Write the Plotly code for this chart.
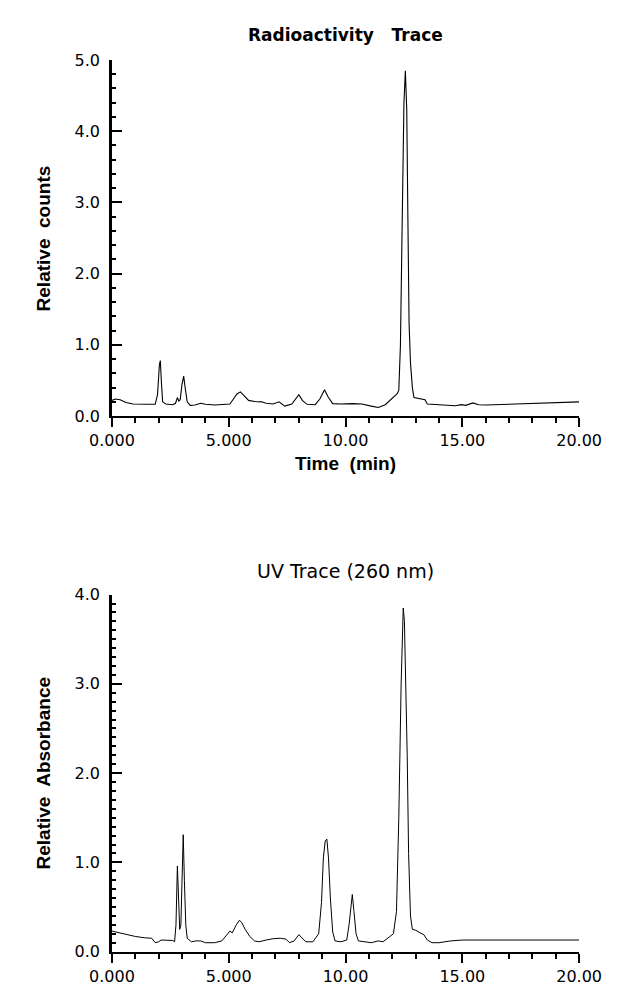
import plotly.graph_objects as go

# ---------------- data ----------------
radio_time = [0.00, 0.15, 0.35, 0.60, 0.90, 1.20, 1.50, 1.85, 1.95, 2.03, 2.07, 2.12, 2.17, 2.30,
              2.60, 2.72, 2.80, 2.86, 2.92, 3.00, 3.07, 3.14, 3.22, 3.35, 3.55, 3.80, 4.00, 4.40,
              4.80, 5.05, 5.20, 5.35, 5.50, 5.65, 5.85, 6.10, 6.40, 6.60, 6.90, 7.15, 7.40, 7.70,
              7.90, 8.00, 8.15, 8.35, 8.70, 8.90, 9.10, 9.25, 9.45, 9.80, 10.30, 10.70, 11.10,
              11.40, 11.70, 12.00, 12.20, 12.28, 12.35, 12.42, 12.50, 12.56, 12.62, 12.67, 12.72,
              12.78, 12.86, 12.93, 13.10, 13.30, 13.40, 13.50, 13.80, 14.20, 14.70, 14.95, 15.15,
              15.45, 15.70, 16.00, 16.50, 17.00, 17.50, 18.00, 18.50, 19.00, 19.50, 20.00]
radio_counts = [0.22, 0.24, 0.23, 0.19, 0.17, 0.165, 0.165, 0.165, 0.30, 0.72, 0.78, 0.45, 0.20, 0.17,
                0.16, 0.18, 0.26, 0.21, 0.23, 0.45, 0.56, 0.38, 0.20, 0.15, 0.155, 0.18, 0.165, 0.155,
                0.16, 0.17, 0.24, 0.31, 0.34, 0.29, 0.22, 0.205, 0.20, 0.18, 0.17, 0.20, 0.14, 0.17,
                0.26, 0.30, 0.22, 0.165, 0.16, 0.24, 0.37, 0.27, 0.175, 0.17, 0.175, 0.17, 0.14,
                0.12, 0.16, 0.25, 0.31, 0.36, 1.00, 2.60, 4.40, 4.85, 4.30, 2.75, 1.30,
                0.75, 0.40, 0.26, 0.25, 0.24, 0.23, 0.17, 0.165, 0.16, 0.145, 0.16, 0.15,
                0.185, 0.16, 0.155, 0.16, 0.17, 0.175, 0.18, 0.19, 0.19, 0.19, 0.20]

uv_time = [0.00, 0.30, 0.60, 1.00, 1.40, 1.70, 1.85, 2.00, 2.10, 2.40, 2.60, 2.68, 2.74, 2.80,
           2.85, 2.90, 2.95, 3.00, 3.05, 3.10, 3.16, 3.22, 3.40, 3.60, 3.80, 4.00, 4.40, 4.70,
           4.90, 5.05, 5.15, 5.30, 5.45, 5.55, 5.70, 5.90, 6.10, 6.30, 6.60, 6.90, 7.20, 7.45,
           7.60, 7.80, 8.00, 8.15, 8.30, 8.60, 8.85, 8.97, 9.05, 9.13, 9.20, 9.27, 9.35, 9.45,
           9.55, 9.80, 10.05, 10.15, 10.25, 10.29, 10.36, 10.45, 10.55, 10.80, 11.10, 11.40,
           11.60, 11.90, 12.05, 12.18, 12.28, 12.38, 12.47, 12.52, 12.58, 12.64, 12.70, 12.78,
           12.86, 13.00, 13.20, 13.35, 13.50, 13.70, 14.00, 14.50, 15.00, 16.00, 17.00, 18.00,
           19.00, 20.00]
uv_absorb = [0.23, 0.21, 0.19, 0.17, 0.155, 0.15, 0.10, 0.11, 0.13, 0.13, 0.125, 0.11, 0.30, 0.96,
             0.60, 0.25, 0.30, 0.85, 1.31, 0.80, 0.30, 0.15, 0.11, 0.12, 0.12, 0.10, 0.10, 0.12,
             0.18, 0.23, 0.21, 0.29, 0.35, 0.33, 0.25, 0.17, 0.12, 0.11, 0.13, 0.145, 0.15, 0.14,
             0.10, 0.12, 0.19, 0.15, 0.11, 0.11, 0.20, 0.55, 1.05, 1.24, 1.26, 1.05, 0.60, 0.22,
             0.12, 0.11, 0.13, 0.30, 0.58, 0.64, 0.45, 0.20, 0.12, 0.11, 0.10, 0.12,
             0.11, 0.17, 0.20, 0.45, 1.50, 3.00, 3.85, 3.70, 3.00, 2.20, 1.10, 0.40,
             0.25, 0.24, 0.21, 0.19, 0.13, 0.10, 0.10, 0.12, 0.13, 0.13, 0.13, 0.125,
             0.13, 0.13]

x_tickvals = [0, 5, 10, 15, 20]
x_ticktext = ["0.000", "5.000", "10.00", "15.00", "20.00"]

title_top = "Radioactivity\u00a0\u00a0 Trace"
title_bottom = "UV Trace (260 nm)"
ylabel_top = "Relative\u00a0 counts"
ylabel_bottom = "Relative\u00a0 Absorbance"
xlabel_top = "Time\u00a0 (min)"

# ---------------- layout geometry ----------------
W, H = 629, 994
x0_px, x1_px = 96, 600
top_y0, top_y1 = 52, 415
bot_y0, bot_y1 = 597, 961

def px_x(p):
    return p / W

def px_y(p):
    return 1 - p / H

tick_font = dict(family="DejaVu Sans", size=16, color="black")
line_col = "black"

fig = go.Figure()
fig.add_trace(go.Scatter(x=radio_time, y=radio_counts, mode="lines",
                         line=dict(color="black", width=1.1), xaxis="x", yaxis="y",
                         showlegend=False, hoverinfo="skip"))
fig.add_trace(go.Scatter(x=uv_time, y=uv_absorb, mode="lines",
                         line=dict(color="black", width=1.0), xaxis="x2", yaxis="y2",
                         showlegend=False, hoverinfo="skip"))

xdom = [px_x(x0_px), px_x(x1_px)]

def xaxis_cfg(anchor):
    return dict(domain=xdom, range=[0, 20], anchor=anchor, showgrid=False, zeroline=False,
                showline=True, linewidth=2, linecolor=line_col,
                ticks="outside", ticklen=9, tickwidth=2, tickcolor=line_col,
                tickvals=x_tickvals, ticktext=x_ticktext, tickfont=tick_font,
                minor=dict(tickmode="linear", tick0=0, dtick=1, ticks="outside",
                           ticklen=5, tickwidth=2, tickcolor=line_col, showgrid=False),
                fixedrange=True)

def yaxis_cfg(anchor, dom, top, minor_dt):
    return dict(domain=dom, range=[0, top], anchor=anchor, showgrid=False, zeroline=False,
                showline=True, linewidth=2.5, linecolor=line_col,
                ticks="inside", ticklen=10, tickwidth=2, tickcolor=line_col,
                tickvals=list(range(0, top + 1)), ticktext=[f"{v:.1f}" for v in range(0, top + 1)],
                tickfont=tick_font, ticklabelstandoff=6,
                minor=dict(tickmode="linear", tick0=0, dtick=minor_dt, ticks="inside",
                           ticklen=4, tickwidth=2, tickcolor=line_col, showgrid=False),
                fixedrange=True)

fig.update_layout(
    width=W, height=H, margin=dict(l=0, r=0, t=0, b=0),
    paper_bgcolor="white", plot_bgcolor="white",
    xaxis=xaxis_cfg("y"),
    yaxis=yaxis_cfg("x", [px_y(top_y1), px_y(top_y0)], 5, 0.2),
    xaxis2=xaxis_cfg("y2"),
    yaxis2=yaxis_cfg("x2", [px_y(bot_y1), px_y(bot_y0)], 4, 0.1),
    yaxis3=dict(domain=[px_y(bot_y1), px_y(bot_y0)], range=[0, 4], anchor="x2",
                overlaying="y2", showgrid=False, zeroline=False, showline=False,
                ticks="inside", ticklen=7, tickwidth=2, tickcolor=line_col,
                tickmode="linear", tick0=0.5, dtick=1, showticklabels=False,
                fixedrange=True),
)

ann_font_title = dict(family="DejaVu Sans", size=17, color="black", weight="bold")
ann_font_ax = dict(family="Liberation Sans", size=19, color="black", weight="bold")
cx = (xdom[0] + xdom[1]) / 2
fig.add_annotation(text=title_top, x=cx, y=px_y(26), xref="paper", yref="paper",
                   showarrow=False, font=ann_font_title, xanchor="center", yanchor="middle")
fig.add_annotation(text=title_bottom, x=cx, y=px_y(573), xref="paper", yref="paper",
                   showarrow=False, font=dict(family="DejaVu Sans", size=19, color="black"),
                   xanchor="center", yanchor="middle")
fig.add_annotation(text=xlabel_top, x=cx, y=px_y(463), xref="paper", yref="paper",
                   showarrow=False, font=ann_font_ax, xanchor="center", yanchor="middle")
fig.add_annotation(text=ylabel_top, x=px_x(22), y=px_y((top_y0 + top_y1) / 2),
                   xref="paper", yref="paper", showarrow=False, font=ann_font_ax,
                   textangle=-90, xanchor="center", yanchor="middle")
fig.add_annotation(text=ylabel_bottom, x=px_x(22), y=px_y((bot_y0 + bot_y1) / 2),
                   xref="paper", yref="paper", showarrow=False, font=ann_font_ax,
                   textangle=-90, xanchor="center", yanchor="middle")

fig.write_html("out.html", config={"displayModeBar": False})
